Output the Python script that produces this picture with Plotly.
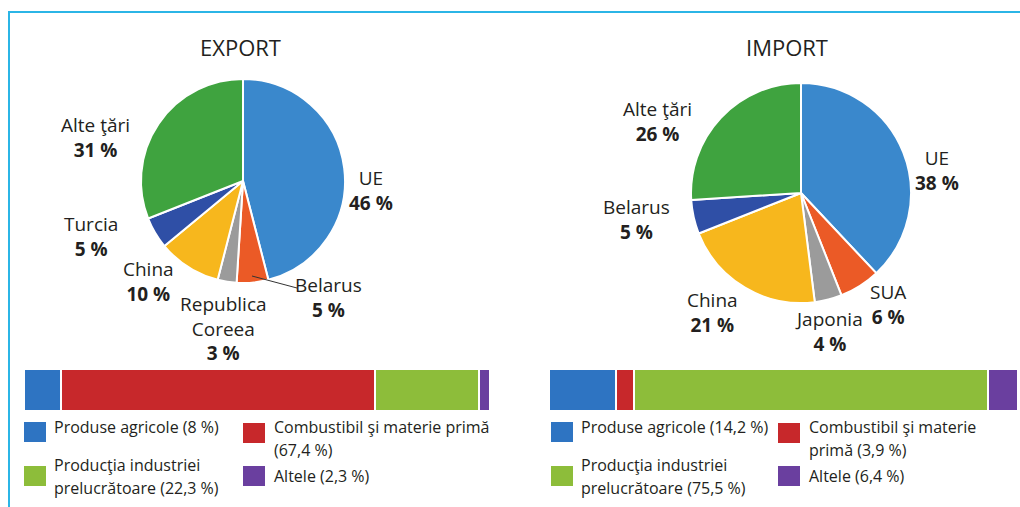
import textwrap
import plotly.graph_objects as go

W, H = 1020, 507

# ---- data -------------------------------------------------------------
export_countries = ["UE", "Belarus", "Republica\nCoreea", "China", "Turcia", "Alte ţări"]
export_share = [46, 5, 3, 10, 5, 31]

import_countries = ["UE", "SUA", "Japonia", "China", "Belarus", "Alte ţări"]
import_share = [38, 6, 4, 21, 5, 26]

goods_categories = ["Produse agricole", "Combustibil şi materie primă",
                    "Producţia industriei prelucrătoare", "Altele"]
export_goods = [8, 67.4, 22.3, 2.3]
import_goods = [14.2, 3.9, 75.5, 6.4]

# ---- style ------------------------------------------------------------
FONT = "Open Sans"
TXT = "#231f20"
pie_colors = ["#3a88cc", "#eb5a26", "#9b9b9b", "#f7b71d", "#2f4fa6", "#3fa33f"]
bar_colors = ["#2e74c2", "#c7282b", "#8dbd3a", "#6a3f9f"]
FRAME = "#2bb5e6"


def fx(x):
    return x / W


def fy(y):
    return 1 - y / H


def pct(v):
    return f"{v:g}".replace(".", ",") + " %"


fig = go.Figure()

# ---- pies -------------------------------------------------------------
pie_boxes = {
    "export": dict(x=[141, 345], y=[79, 283]),
    "import": dict(x=[691, 911], y=[83, 303]),
}
for key, names, vals in [("export", export_countries, export_share),
                         ("import", import_countries, import_share)]:
    b = pie_boxes[key]
    fig.add_trace(go.Pie(
        labels=[n.replace("\n", " ") for n in names], values=vals,
        sort=False, direction="clockwise", rotation=0,
        marker=dict(colors=pie_colors, line=dict(color="white", width=2)),
        textinfo="none", hoverinfo="label+percent", showlegend=False,
        domain=dict(x=[fx(b["x"][0]), fx(b["x"][1])],
                    y=[fy(b["y"][1]), fy(b["y"][0])]),
    ))

# ---- stacked bars -----------------------------------------------------
bar_axes = [("x", "y", export_goods), ("x2", "y2", import_goods)]
for xa, ya, vals in bar_axes:
    for cat, v, c in zip(goods_categories, vals, bar_colors):
        fig.add_trace(go.Bar(
            x=[v], y=[0], orientation="h", width=1, xaxis=xa, yaxis=ya,
            marker=dict(color=c, line=dict(color="white", width=2)),
            name=cat, showlegend=False, hovertemplate=f"{cat}: {pct(v)}<extra></extra>",
        ))

bar_top, bar_bot = 369, 411
axis_common = dict(visible=False, fixedrange=True)
fig.update_layout(
    xaxis=dict(domain=[fx(24), fx(490)], range=[0, sum(export_goods)], **axis_common),
    yaxis=dict(domain=[fy(bar_bot), fy(bar_top)], range=[-0.5, 0.5], **axis_common),
    xaxis2=dict(domain=[fx(549), fx(1018)], range=[0, sum(import_goods)],
                anchor="y2", **axis_common),
    yaxis2=dict(domain=[fy(bar_bot), fy(bar_top)], range=[-0.5, 0.5],
                anchor="x2", **axis_common),
    barmode="stack",
)

annotations = []
shapes = []


def text(x, y, s, size=19, anchor="center"):
    annotations.append(dict(
        x=fx(x), y=fy(y), xref="paper", yref="paper", text=s,
        showarrow=False, xanchor=anchor, yanchor="middle", align=anchor,
        font=dict(family=FONT, size=size, color=TXT),
    ))


# ---- titles -----------------------------------------------------------
text(240, 47, "EXPORT", size=22)
text(787, 47, "IMPORT", size=22)

# ---- pie labels: centre of the name + value block ----------------------
export_label_pos = [
    (371, 190),   # UE
    (328, 297),   # Belarus
    (223, 328),   # Republica Coreea
    (148, 281),   # China
    (91, 237),    # Turcia
    (95, 137),    # Alte tari
]
import_label_pos = [
    (937, 171),   # UE
    (888, 304),   # SUA
    (829, 331),   # Japonia
    (712, 312),   # China
    (636, 219),   # Belarus
    (657, 121),   # Alte tari
]
for names, vals, positions in [(export_countries, export_share, export_label_pos),
                               (import_countries, import_share, import_label_pos)]:
    for n, v, (lx, ly) in zip(names, vals, positions):
        block = "<br>".join(n.split("\n")) + f"<br><b>{pct(v)}</b>"
        text(lx, ly, block)

# leader line for the small Belarus export slice
shapes.append(dict(type="line", xref="paper", yref="paper",
                   x0=fx(252), y0=fy(276), x1=fx(297), y1=fy(288),
                   line=dict(color="#333333", width=1)))

# ---- legends under bars -----------------------------------------------
legend_layout = {
    "export": dict(cols=[(24, 52), (243, 272)], wrap=30),
    "import": dict(cols=[(551, 579), (778, 807)], wrap=25),
}
# (category index, column, square top, first text line y)
legend_slots = [(0, 0, 422, 427), (1, 1, 423, 427), (2, 0, 466, 465), (3, 1, 466, 476)]

for key, vals in [("export", export_goods), ("import", import_goods)]:
    cfg = legend_layout[key]
    for idx, col, sq_top, ty in legend_slots:
        sx, tx = cfg["cols"][col]
        shapes.append(dict(type="rect", xref="paper", yref="paper",
                           x0=fx(sx), x1=fx(sx + 22), y0=fy(sq_top + 20), y1=fy(sq_top),
                           fillcolor=bar_colors[idx], line=dict(width=0)))
        label = f"{goods_categories[idx]} ({pct(vals[idx])})"
        for i, line in enumerate(textwrap.wrap(label, cfg["wrap"])):
            text(tx, ty + i * 23, line, size=16, anchor="left")

# ---- frame lines -------------------------------------------------------
shapes.append(dict(type="line", xref="paper", yref="paper",
                   x0=fx(8), y0=fy(12), x1=1, y1=fy(12),
                   line=dict(color=FRAME, width=2)))
shapes.append(dict(type="line", xref="paper", yref="paper",
                   x0=fx(9), y0=fy(12), x1=fx(9), y1=0,
                   line=dict(color=FRAME, width=2)))

fig.update_layout(
    width=W, height=H, margin=dict(l=0, r=0, t=0, b=0),
    paper_bgcolor="white", plot_bgcolor="white",
    annotations=annotations, shapes=shapes, showlegend=False,
)

fig.write_html("out.html", config={"displayModeBar": False})
